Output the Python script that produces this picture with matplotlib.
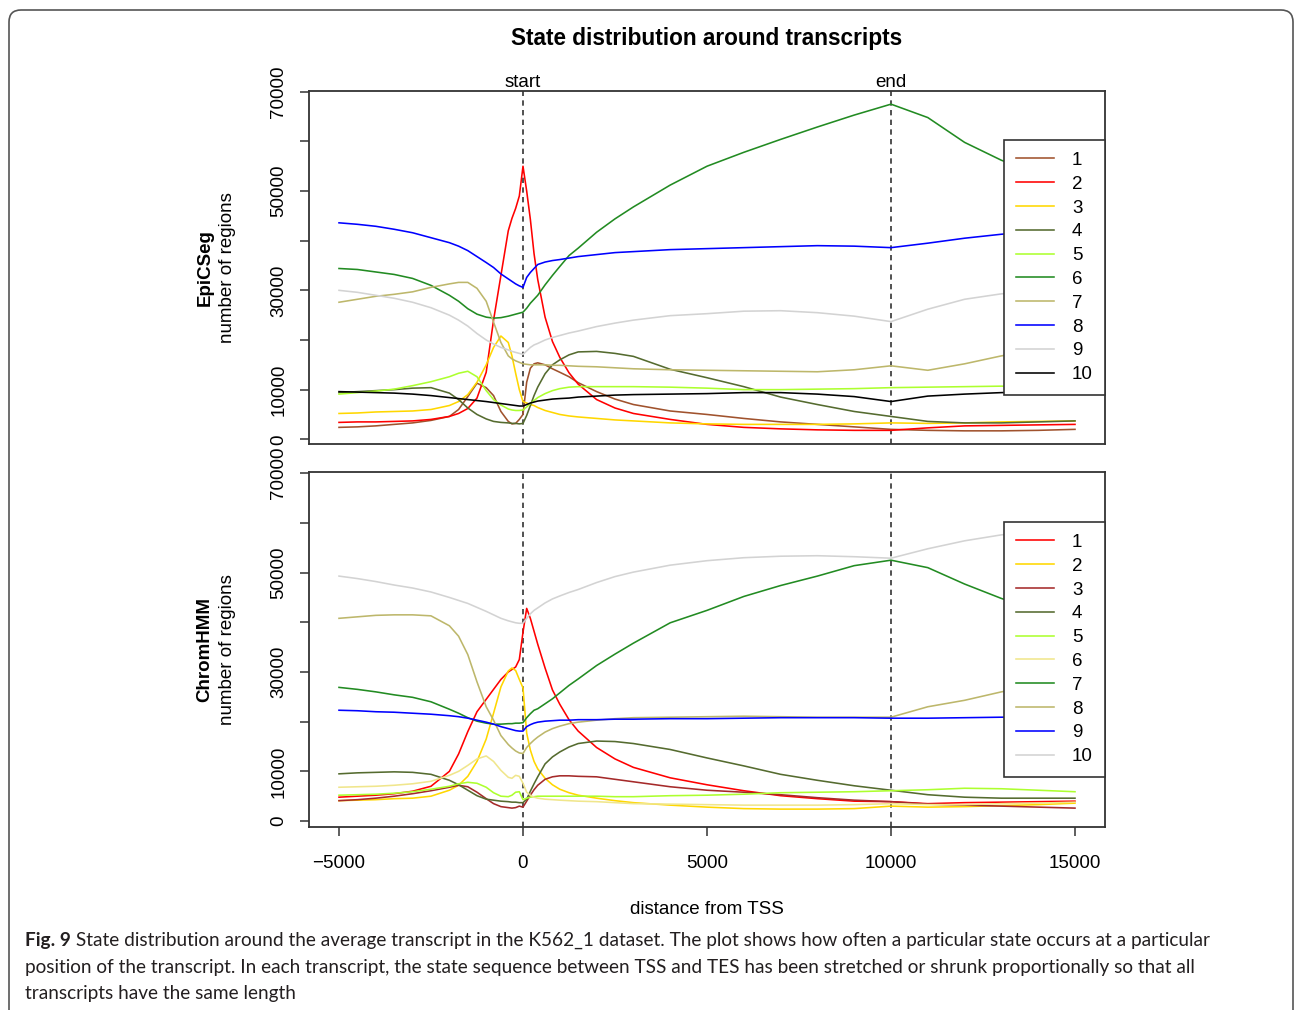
import matplotlib
matplotlib.use('Agg')
import matplotlib.pyplot as plt
import matplotlib.transforms as mtransforms
from matplotlib.patches import FancyBboxPatch
import numpy as np

# ---------------- data (counts in thousands) ----------------
x_pos = [-5000, -4500, -4000, -3500, -3000, -2500, -2000, -1750, -1500, -1250,
         -1000, -800, -600, -400, -300, -200, -100, 0, 100, 200, 300, 400, 600,
         800, 1000, 1250, 1500, 2000, 2500, 3000, 4000, 5000, 6000, 7000, 8000,
         9000, 10000, 11000, 12000, 13000, 14000, 15000]

# EpiCSeg states 1..10
epi_1 = [2.4, 2.5, 2.7, 3.0, 3.3, 3.8, 4.6, 6.0, 8.6, 11.3, 10.4, 8.8, 5.6, 3.6, 3.1, 3.2, 4.0, 5.0,
         11.5, 14.3, 15.2, 15.4, 15.0, 14.2, 13.5, 12.6, 11.4, 9.6, 8.1, 7.0, 5.7, 5.0, 4.2, 3.5,
         3.0, 2.5, 2.0, 1.8, 1.7, 1.7, 1.8, 2.0]
epi_2 = [3.4, 3.5, 3.5, 3.6, 3.7, 4.0, 4.6, 5.2, 6.2, 8.3, 13.5, 24.0, 33.0, 42.0, 44.5, 46.5, 49.0, 55.0,
         50.0, 44.3, 37.4, 32.2, 24.6, 19.7, 16.5, 13.4, 11.1, 8.0, 6.3, 5.2, 4.0, 3.0, 2.4, 2.1,
         1.9, 1.8, 1.8, 2.3, 2.7, 2.8, 2.9, 3.0]
epi_3 = [5.2, 5.3, 5.5, 5.6, 5.7, 6.0, 6.8, 7.6, 9.0, 11.5, 15.0, 18.5, 20.8, 19.5, 16.8, 13.3, 10.0, 7.6,
         7.3, 7.0, 6.8, 6.4, 5.8, 5.4, 5.0, 4.7, 4.5, 4.2, 3.9, 3.7, 3.3, 3.1, 3.0, 3.0,
         3.0, 3.1, 3.3, 3.2, 3.3, 3.5, 3.6, 3.7]
epi_4 = [9.4, 9.6, 9.8, 10.0, 10.3, 10.4, 9.3, 8.0, 6.3, 5.0, 4.1, 3.6, 3.4, 3.3, 3.2, 3.2, 3.1, 3.2,
         4.8, 6.8, 8.8, 10.5, 13.2, 15.0, 16.0, 17.0, 17.6, 17.7, 17.3, 16.7, 14.1, 12.4, 10.6, 8.5,
         7.0, 5.6, 4.6, 3.6, 3.3, 3.3, 3.5, 3.7]
epi_5 = [9.1, 9.4, 9.7, 10.1, 10.8, 11.6, 12.6, 13.3, 13.7, 12.6, 9.8, 8.0, 6.9, 6.1, 5.9, 5.8, 5.8, 5.9,
         6.5, 7.2, 7.8, 8.4, 9.2, 9.8, 10.2, 10.5, 10.6, 10.6, 10.6, 10.6, 10.5, 10.3, 10.0, 10.0,
         10.1, 10.2, 10.4, 10.5, 10.6, 10.7, 10.6, 10.5]
epi_6 = [34.4, 34.2, 33.7, 33.2, 32.4, 31.0, 29.0, 27.8, 26.3, 25.2, 24.6, 24.4, 24.5, 24.8, 25.0, 25.2, 25.4, 25.6,
         26.4, 27.4, 28.2, 29.0, 31.1, 33.0, 34.8, 37.0, 38.5, 41.7, 44.4, 46.8, 51.2, 55.0, 57.8, 60.4,
         62.9, 65.3, 67.5, 64.8, 59.8, 56.2, 53.5, 51.0]
epi_7 = [27.6, 28.2, 28.8, 29.2, 29.7, 30.6, 31.3, 31.6, 31.6, 30.4, 27.8, 23.6, 19.5, 16.8, 16.2, 15.8, 15.5, 15.2,
         15.1, 15.0, 15.0, 15.0, 15.0, 14.9, 14.9, 14.8, 14.7, 14.6, 14.4, 14.2, 14.0, 13.9, 13.8, 13.7,
         13.6, 14.0, 14.8, 13.9, 15.2, 16.8, 18.0, 19.0]
epi_8 = [43.6, 43.3, 42.9, 42.3, 41.6, 40.6, 39.6, 38.9, 38.0, 36.8, 35.6, 34.6, 33.3, 32.3, 31.8, 31.3, 30.9, 30.6,
         32.6, 33.6, 34.4, 35.2, 35.7, 36.0, 36.2, 36.5, 36.8, 37.2, 37.6, 37.8, 38.2, 38.4, 38.6, 38.8,
         39.0, 38.9, 38.6, 39.5, 40.5, 41.3, 41.9, 42.4]
epi_9 = [30.0, 29.6, 29.0, 28.4, 27.6, 26.5, 25.0, 24.0, 22.8, 21.3, 20.0, 19.2, 18.5, 18.0, 17.7, 17.5, 17.3, 17.1,
         17.8, 18.5, 19.0, 19.3, 20.0, 20.5, 20.9, 21.4, 21.8, 22.7, 23.4, 24.0, 24.9, 25.3, 25.8, 25.9,
         25.5, 24.8, 23.7, 26.2, 28.2, 29.3, 29.8, 30.2]
epi_10 = [9.6, 9.5, 9.4, 9.3, 9.1, 8.8, 8.4, 8.2, 8.0, 7.8, 7.6, 7.4, 7.2, 7.0, 6.9, 6.8, 6.7, 6.7,
          7.0, 7.3, 7.5, 7.7, 7.9, 8.1, 8.2, 8.3, 8.5, 8.7, 8.9, 9.0, 9.1, 9.2, 9.4, 9.4,
          9.1, 8.6, 7.6, 8.7, 9.1, 9.4, 9.6, 9.8]

# ChromHMM states 1..10
chm_1 = [4.8, 5.0, 5.2, 5.5, 6.0, 7.0, 10.0, 13.5, 18.0, 22.0, 24.5, 26.5, 28.5, 30.0, 30.5, 31.0, 32.5, 38.0,
         42.8, 40.8, 38.2, 35.6, 30.8, 26.4, 23.5, 20.4, 18.1, 14.8, 12.5, 10.8, 8.7, 7.3, 6.1, 5.1,
         4.5, 4.0, 3.9, 3.5, 3.7, 3.8, 3.9, 4.0]
chm_2 = [4.1, 4.2, 4.3, 4.5, 4.6, 5.0, 6.2, 7.2, 9.0, 12.0, 16.5, 21.7, 27.0, 30.2, 30.8, 30.3, 28.5, 26.8,
         17.7, 14.3, 12.0, 10.5, 8.6, 7.3, 6.4, 5.7, 5.2, 4.6, 4.1, 3.7, 3.2, 2.8, 2.5, 2.4,
         2.4, 2.5, 3.0, 2.8, 2.9, 3.1, 3.3, 3.6]
chm_3 = [4.1, 4.3, 4.6, 5.0, 5.5, 6.1, 6.8, 7.2, 6.9, 5.8, 4.5, 3.5, 2.9, 2.7, 2.6, 2.7, 3.0, 2.8,
         4.0, 5.2, 6.3, 7.2, 8.4, 8.9, 9.1, 9.1, 9.0, 8.9, 8.4, 7.9, 6.9, 6.2, 5.8, 5.3,
         4.7, 4.2, 3.9, 3.4, 3.2, 3.0, 2.8, 2.6]
chm_4 = [9.5, 9.7, 9.8, 9.9, 9.8, 9.4, 8.2, 7.3, 6.2, 5.1, 4.4, 4.2, 4.0, 3.9, 3.8, 3.8, 3.7, 3.7,
         4.4, 6.0, 7.5, 8.9, 11.5, 12.9, 13.9, 14.9, 15.6, 16.1, 16.0, 15.6, 14.4, 12.7, 11.1, 9.4,
         8.2, 7.1, 6.2, 5.3, 4.8, 4.6, 4.6, 4.6]
chm_5 = [5.2, 5.3, 5.4, 5.6, 5.9, 6.4, 7.0, 7.5, 7.8, 7.6, 6.8, 5.7, 5.0, 4.9, 5.2, 5.8, 5.9, 4.3,
         4.6, 4.8, 4.9, 5.0, 5.0, 5.0, 5.0, 5.0, 5.0, 5.0, 4.9, 4.9, 5.1, 5.2, 5.4, 5.7,
         5.8, 5.9, 6.1, 6.3, 6.6, 6.5, 6.2, 5.9]
chm_6 = [6.8, 6.9, 7.0, 7.2, 7.5, 8.0, 9.2, 10.0, 11.2, 12.5, 13.1, 12.0, 10.2, 8.8, 8.6, 9.2, 9.0, 7.6,
         5.8, 5.2, 4.8, 4.6, 4.4, 4.3, 4.2, 4.1, 4.0, 3.9, 3.7, 3.5, 3.4, 3.3, 3.2, 3.2,
         3.2, 3.3, 3.5, 3.3, 3.3, 3.5, 3.6, 3.8]
chm_7 = [26.9, 26.5, 26.0, 25.4, 24.9, 24.0, 22.5, 21.7, 20.8, 20.1, 19.7, 19.5, 19.5, 19.6, 19.6, 19.7, 19.7, 19.8,
         20.8, 21.6, 22.3, 22.6, 23.6, 24.6, 25.8, 27.3, 28.6, 31.3, 33.6, 35.8, 39.9, 42.4, 45.2, 47.4,
         49.3, 51.4, 52.5, 51.0, 47.7, 44.8, 42.3, 40.0]
chm_8 = [40.8, 41.1, 41.4, 41.5, 41.5, 41.3, 39.3, 37.2, 33.5, 28.0, 23.0, 20.3, 17.2, 15.4, 14.7, 14.1, 13.7, 13.6,
         14.8, 15.6, 16.3, 16.9, 17.9, 18.6, 19.1, 19.6, 19.9, 20.3, 20.6, 20.8, 20.9, 21.0, 21.1, 21.0,
         20.9, 20.9, 20.9, 23.0, 24.3, 26.0, 27.3, 28.5]
chm_9 = [22.3, 22.2, 22.0, 21.9, 21.7, 21.5, 21.2, 21.0, 20.7, 20.3, 19.9, 19.5, 19.0, 18.6, 18.4, 18.2, 18.1, 18.1,
         19.0, 19.4, 19.7, 19.9, 20.1, 20.2, 20.3, 20.3, 20.4, 20.4, 20.5, 20.5, 20.6, 20.6, 20.7, 20.8,
         20.8, 20.8, 20.7, 20.7, 20.8, 20.9, 21.0, 21.0]
chm_10 = [49.3, 48.8, 48.2, 47.5, 46.9, 46.1, 45.0, 44.4, 43.8, 43.0, 42.2, 41.5, 40.8, 40.3, 40.1, 39.9, 39.8, 39.8,
          40.8, 41.7, 42.4, 42.9, 43.9, 44.7, 45.3, 46.0, 46.6, 48.0, 49.2, 50.1, 51.5, 52.4, 53.0, 53.3,
          53.4, 53.2, 52.9, 54.8, 56.4, 57.6, 58.2, 58.7]

state_labels = ['1', '2', '3', '4', '5', '6', '7', '8', '9', '10']
epi_colors = ['sienna', 'red', 'gold', 'darkolivegreen', 'greenyellow',
              'forestgreen', 'darkkhaki', 'blue', 'lightgray', 'black']
chm_colors = ['red', 'gold', 'brown', 'darkolivegreen', 'greenyellow',
              'khaki', 'forestgreen', 'darkkhaki', 'blue', 'lightgray']

y_ticks = [0, 10000, 20000, 30000, 40000, 50000, 60000, 70000]
y_tick_labels = ['0', '10000', '', '30000', '', '50000', '', '70000']
x_ticks = [-5000, 0, 5000, 10000, 15000]
x_tick_labels = ['\u22125000', '0', '5000', '10000', '15000']
markers = [(0, 'start'), (10000, 'end')]

# ---------------- figure ----------------
W, H = 1295, 1010
plt.rcParams['font.family'] = ['Liberation Sans', 'DejaVu Sans']
fig = plt.figure(figsize=(W / 100, H / 100), dpi=100)


def fx(px):
    return px / W


def fy(py):
    return 1 - py / H


SPINE = '#333333'
FS = 13.5

ax_top = fig.add_axes([fx(309), fy(444), fx(1105) - fx(309), fy(91) - fy(444)])
ax_bot = fig.add_axes([fx(309), fy(827), fx(1105) - fx(309), fy(472) - fy(827)])

panels = [
    (ax_top, [epi_1, epi_2, epi_3, epi_4, epi_5, epi_6, epi_7, epi_8, epi_9, epi_10], epi_colors, (-950, 70150)),
    (ax_bot, [chm_1, chm_2, chm_3, chm_4, chm_5, chm_6, chm_7, chm_8, chm_9, chm_10], chm_colors, (-1200, 70250)),
]

for ax, series, colors, ylim in panels:
    for vals, col, lab in zip(series, colors, state_labels):
        ax.plot(x_pos, np.array(vals) * 1000, color=col, lw=1.15, label=lab)
    for xm, _ in markers:
        ax.axvline(xm, color=SPINE, lw=1.2, ls=(0, (3.2, 2.6)), zorder=1)
    ax.set_xlim(-5815, 15815)
    ax.set_ylim(*ylim)
    ax.set_yticks(y_ticks)
    ax.set_yticklabels(y_tick_labels, rotation=90, va='center', fontsize=FS)
    ax.tick_params(axis='y', length=6.5, width=1.1, color=SPINE, pad=9)
    for s in ax.spines.values():
        s.set_color(SPINE)
        s.set_linewidth(1.3)
    leg = ax.legend(loc='center right', bbox_to_anchor=(1.0, 0.5), borderaxespad=0,
                    fontsize=FS, frameon=True, fancybox=False, framealpha=1,
                    edgecolor=SPINE, handlelength=2.05, handletextpad=0.95,
                    labelspacing=0.355, borderpad=0.65)
    leg.get_frame().set_linewidth(1.2)

ax_top.tick_params(axis='x', bottom=False, labelbottom=False)
ax_bot.set_xticks(x_ticks)
ax_bot.set_xticklabels(x_tick_labels, fontsize=FS)
ax_bot.tick_params(axis='x', length=6.5, width=1.1, color=SPINE, pad=14)

trans = mtransforms.blended_transform_factory(ax_top.transData, ax_top.transAxes)
for xm, txt in markers:
    ax_top.annotate(txt, xy=(xm, 1.0), xycoords=trans, xytext=(0, 3.0),
                    textcoords='offset points', ha='center', va='baseline', fontsize=FS)

# titles and axis labels
fig.text(fx(707), fy(38), 'State distribution around transcripts', ha='center', va='center',
         fontsize=16.3, fontweight='bold')
fig.text(fx(205), fy(268), 'EpiCSeg', rotation=90, ha='center', va='center', fontsize=FS, fontweight='bold')
fig.text(fx(228), fy(268), 'number of regions', rotation=90, ha='center', va='center', fontsize=FS)
fig.text(fx(205), fy(650), 'ChromHMM', rotation=90, ha='center', va='center', fontsize=FS, fontweight='bold')
fig.text(fx(228), fy(650), 'number of regions', rotation=90, ha='center', va='center', fontsize=FS)
fig.text(fx(707), fy(910), 'distance from TSS', ha='center', va='center', fontsize=FS)

# outer rounded border
border = FancyBboxPatch((0.09, -0.5), 12.84, 10.5, boxstyle='round,pad=0,rounding_size=0.12',
                        transform=fig.dpi_scale_trans, fill=False, edgecolor='#555555', lw=1.2)
fig.patches.append(border)

# caption
cap_font = ['Lato', 'DejaVu Sans']
cap_color = '#231f20'
line1_bold = 'Fig. 9'
line1 = ' State distribution around the average transcript in the K562_1 dataset. The plot shows how often a particular state occurs at a particular'
line2 = 'position of the transcript. In each transcript, the state sequence between TSS and TES has been stretched or shrunk proportionally so that all'
line3 = 'transcripts have the same length'

renderer = fig.canvas.get_renderer()
fs0 = 13.0
tb = fig.text(fx(25), fy(946), line1_bold, fontsize=fs0, fontweight='bold', family=cap_font,
              color=cap_color, va='baseline', ha='left')
tn = fig.text(fx(25), fy(946), line1, fontsize=fs0, family=cap_font, color=cap_color,
              va='baseline', ha='left')
wb = tb.get_window_extent(renderer).width
wn = tn.get_window_extent(renderer).width
cap_fs = fs0 * (1210 - 25) / (wb + wn)
tb.set_fontsize(cap_fs)
tn.set_fontsize(cap_fs)
wb = tb.get_window_extent(renderer).width
tn.set_x(fx(25 + wb))
fig.text(fx(25), fy(973), line2, fontsize=cap_fs, family=cap_font, color=cap_color,
         va='baseline', ha='left')
fig.text(fx(25), fy(999.5), line3, fontsize=cap_fs, family=cap_font, color=cap_color,
         va='baseline', ha='left')

fig.savefig('out.png', dpi=100)
